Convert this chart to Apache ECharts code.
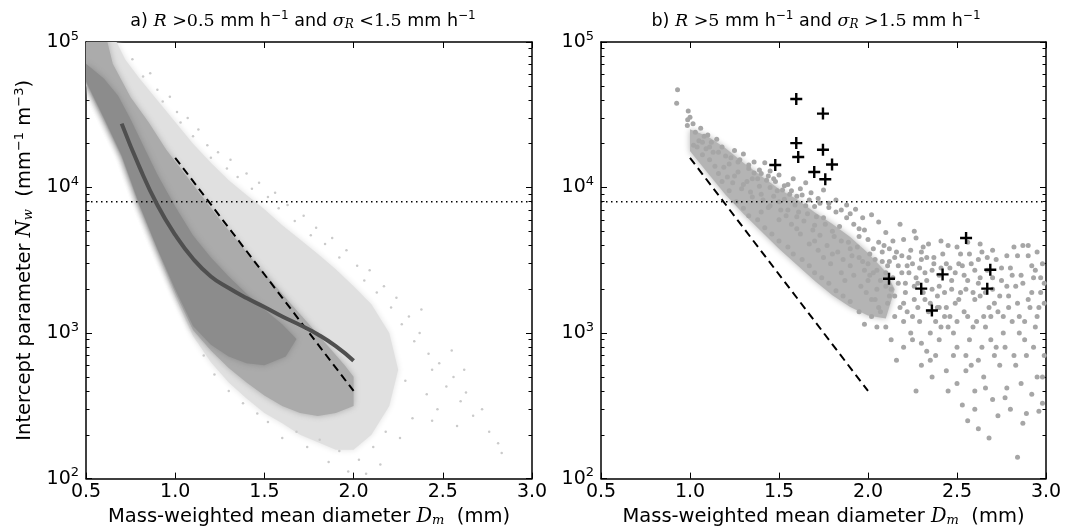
<!DOCTYPE html>
<html>
<head>
<meta charset="utf-8">
<script src="https://cdn.jsdelivr.net/npm/echarts@6.0.0/dist/echarts.min.js"></script>
<style>
html, body { margin: 0; background: #fff; }
#chart { width: 1065px; height: 532px; }
</style>
</head>
<body>
<div id="chart"></div>
<script>
// axis ticks
var xTicks = [0.5, 1.0, 1.5, 2.0, 2.5, 3.0];
var yMinorTicks = [200, 300, 400, 500, 600, 700, 800, 900,
  2000, 3000, 4000, 5000, 6000, 7000, 8000, 9000,
  20000, 30000, 40000, 50000, 60000, 70000, 80000, 90000];
var nwLimit = 8000;

// panel a: density of the point cloud, read as outlines of the light / medium / dark parts
var cloudLightA = [[0.5,126000],[0.63,126000],[0.72,75900],[0.8,56200],[0.9,39800],[1.0,28200],[1.1,20000],
  [1.2,14800],[1.3,11200],[1.4,8900],[1.5,7100],[1.6,5500],[1.7,4400],[1.8,3500],[1.9,2750],[2.0,2100],
  [2.1,1580],[2.2,1000],[2.25,560],[2.2,316],[2.1,200],[2.0,158],[1.9,158],[1.8,178],[1.7,200],
  [1.6,240],[1.5,282],[1.4,355],[1.3,457],[1.2,630],[1.1,955],[1.0,1780],[0.9,3550],[0.8,7080],
  [0.7,15800],[0.6,28200],[0.5,50100]];
var cloudMidA = [[0.5,126000],[0.6,126000],[0.65,70800],[0.75,41700],[0.85,28200],[0.95,18200],
  [1.05,12600],[1.15,8710],[1.25,6030],[1.35,4270],[1.45,3020],[1.55,2190],[1.65,1580],[1.75,1150],
  [1.85,832],[1.95,600],[2.0,501],[2.0,316],[1.9,282],[1.8,269],[1.7,282],[1.6,316],[1.5,372],
  [1.4,457],[1.3,575],[1.2,759],[1.1,1050],[1.0,1905],[0.9,3720],[0.8,7410],[0.7,16200],[0.6,29500],
  [0.5,52500]];
var cloudDarkA = [[0.5,70800],[0.6,56200],[0.68,42700],[0.75,29500],[0.82,19500],[0.9,12300],[1.0,7410],
  [1.1,4680],[1.2,3310],[1.3,2450],[1.4,1860],[1.5,1450],[1.6,1150],[1.68,912],[1.62,690],[1.5,600],
  [1.4,620],[1.3,690],[1.2,830],[1.1,1120],[1.0,2000],[0.9,3800],[0.8,7590],[0.7,16600],[0.6,30200],
  [0.5,53700]];
// panel a: scattered outlying points
var sparseA = [[0.76,76000],[0.82,58000],[0.86,61000],[0.9,47000],[0.93,39000],[0.97,42000],[1.01,33000],
  [1.03,28000],[1.07,30000],[1.1,22500],[1.13,25000],[1.18,19500],[1.2,16000],[1.24,17500],[1.29,13500],
  [1.31,15500],[1.35,11800],[1.4,12500],[1.43,9800],[1.47,10800],[1.52,8600],[1.56,9200],[1.58,7200],
  [1.63,7600],[1.67,5900],[1.72,6400],[1.76,4700],[1.79,5300],[1.84,4100],[1.88,4500],[1.92,3300],
  [1.96,3700],[2.02,2900],[2.06,2300],[2.09,2700],[2.13,1900],[2.17,2100],[2.21,1500],[2.24,1750],
  [2.27,1150],[2.31,1300],[2.34,880],[2.37,1000],[2.42,720],[2.44,560],[2.48,620],[2.52,430],[2.56,500],
  [2.6,340],[2.63,390],[2.67,270],[2.72,300],[2.76,210],[2.81,175],[2.83,150],[2.41,380],[2.47,300],
  [2.33,260],[2.26,190],[2.18,210],[2.11,165],[2.03,135],[1.97,112],[1.92,155],[1.86,130],[1.81,185],
  [1.74,165],[1.68,210],[1.6,190],[1.52,245],[1.46,280],[1.38,330],[1.3,400],[1.22,520],[1.16,700],
  [2.55,760],[2.62,560],[2.38,1450],[2.15,125],[2.07,108],[2.29,470],[2.44,250],[2.58,230]];
// panel a: fitted curve and reference line
var fitA = [[0.70,27500],[0.80,13800],[0.90,7590],[1.00,4730],[1.10,3240],[1.20,2450],[1.30,2040],
  [1.40,1740],[1.50,1510],[1.60,1300],[1.70,1135],[1.80,977],[1.90,813],[2.00,646]];
var refLine = [[1.0,16000],[2.0,400]];

// panel b
var cloudDenseB = [[1.0,25100],[1.1,22400],[1.2,18600],[1.3,14800],[1.4,12000],[1.5,9770],[1.6,8320],
  [1.7,6760],[1.8,5620],[1.9,4570],[2.0,3550],[2.1,2630],[2.15,2000],[2.1,1260],[2.0,1320],[1.9,1510],
  [1.8,1820],[1.7,2290],[1.6,2950],[1.5,3800],[1.4,5010],[1.3,6610],[1.2,8910],[1.1,12600],[1.0,17800]];
var pointsB = [[0.93,47000],[0.925,38000],[0.99,33600],[1.0,30400],[0.987,29200],[1.017,27400],[0.985,26700],
  [1.03,24000],[1.06,25500],[1.08,22500],[1.05,21000],[1.1,23000],[1.12,20500],[1.15,21500],[1.02,19500],
  [1.09,18500],[1.13,17500],[1.18,19000],[1.2,16500],[1.25,18000],[1.28,15500],[1.22,14500],[1.3,17000],
  [1.33,13500],[1.36,15000],[1.4,12500],[1.42,14800],[1.38,11500],[1.45,13000],[1.48,11000],[1.5,12200],
  [1.55,10500],[1.52,9600],[1.58,11500],[1.62,9800],[1.65,10800],[1.6,8700],[1.68,9200],[1.72,8400],
  [1.75,9600],[1.78,7800],[1.7,7400],[1.82,8200],[1.85,7000],[1.88,7600],[1.9,6600],[1.93,7100],
  [1.97,6200],[2.02,6500],[2.06,5800],[1.35,8600],
  [1.18,11000],[1.22,9500],[1.26,8000],[1.3,7200],[1.33,6400],[1.38,6000],[1.42,5300],[1.46,4800],
  [1.5,4300],[1.55,3900],[1.58,3500],[1.63,3200],[1.67,2900],[1.7,2600],[1.74,2400],[1.78,2200],
  [1.82,1950],[1.86,1800],[1.9,1650],[1.95,1400],[1.98,1150],[2.02,1300],[2.06,1500],[2.1,1100],
  [2.13,900],[2.16,650],[2.2,800],[2.24,1000],[2.27,400],[2.3,600],[2.33,750],[2.36,500],[2.4,900],
  [2.44,550],[2.48,700],[2.53,320],[2.56,250],[2.5,450],[2.58,600],[2.62,220],[2.6,400],[2.65,500],
  [2.68,190],[2.7,350],[2.74,600],[2.78,420],[2.8,300],[2.84,140],[2.86,450],[2.89,280],[2.92,380],
  [2.95,500],[2.98,330],[2.72,800],[2.76,1000],[2.82,700],[2.88,900],[2.94,1100],[2.99,700],
  [1.95,3300],[1.98,2700],[2.0,2300],[2.03,3800],[2.05,2000],[2.08,3100],[2.1,2600],[2.12,1800],
  [2.14,4300],[2.15,3300],[2.17,2200],[2.2,1600],[2.22,2900],[2.24,3700],[2.25,1300],[2.27,2400],
  [2.3,3200],[2.32,1700],[2.34,4100],[2.36,2700],[2.38,1200],[2.4,2100],[2.42,3500],[2.44,1500],
  [2.46,2800],[2.48,1000],[2.5,3900],[2.52,1900],[2.54,2500],[2.56,1300],[2.58,3000],[2.6,1700],
  [2.62,2200],[2.64,3600],[2.66,1100],[2.68,1500],[2.7,2400],[2.72,3200],[2.74,1800],[2.76,1300],
  [2.78,2100],[2.8,2800],[2.82,3900],[2.84,1600],[2.86,2500],[2.88,1200],[2.9,3400],[2.92,1900],
  [2.94,2700],[2.96,1500],[2.98,3000],[2.99,2200],[2.26,5000],[2.56,4200],[2.87,4000],[2.95,3600],
  [2.45,4000],[2.18,5600],[2.1,4900],[1.95,5200],[2.0,4400],
  [1.25,12000],[1.3,10500],[1.35,11500],[1.4,9000],[1.45,10000],[1.5,8000],[1.55,7000],[1.6,6300],
  [1.65,7500],[1.7,5500],[1.75,6200],[1.8,5000],[1.85,4300],[1.9,3800],[1.95,4600],[1.6,5200],
  [1.7,4300],[1.8,3500],[1.9,2900],[1.75,3300],[1.85,2600],[2.0,3000],[1.5,6000],[1.45,7500],[1.4,6800],
  [1.04,19000],[1.07,16800],[1.11,15500],[1.14,14000],[1.16,12500],[1.19,13800],[1.21,11800],[1.24,10800],
  [1.27,12800],[1.29,9800],[1.32,11000],[1.34,9300],[1.36,12600],[1.39,10200],[1.41,8200],[1.43,11200],
  [1.44,7300],[1.47,8700],[1.49,9500],[1.51,7000],[1.53,8300],[1.54,6400],[1.56,9000],[1.57,5600],
  [1.59,7600],[1.61,6800],[1.62,4800],[1.64,5900],[1.66,6600],[1.67,4100],[1.69,5100],[1.71,6300],
  [1.72,3700],[1.73,4700],[1.76,5600],[1.77,4000],[1.79,3000],[1.81,4600],[1.83,3600],[1.84,5400],
  [1.86,3200],[1.87,2300],[1.89,4200],[1.91,3400],[1.92,2500],[1.94,3900],[1.96,2100],[1.97,3100],
  [1.99,1900],[2.01,3500],[2.03,2600],[2.04,1700],[2.07,2300],[2.09,4000],[2.11,2900],[2.13,2000],
  [2.16,3600],[2.19,2600],[2.21,1900],[2.23,3300],[2.26,2100],[2.28,1500],[2.29,2800],[2.31,3900],
  [2.33,2300],[2.35,1600],[2.37,3300],[2.39,1800],[2.41,2800],[2.43,1300],[2.47,2300],[2.49,1600],
  [2.51,3000],[2.55,2000],[2.57,3500],[2.59,1100],[2.63,1800],[2.67,2700],[2.69,900],[2.71,1600],
  [2.75,2300],[2.79,1500],[2.83,2100],[2.85,1000],[2.91,1500],[2.97,1900],[2.93,2400],[2.81,1200],
  [2.65,1300],[2.45,1100],[2.35,1000],[2.25,900],[2.15,1300],[2.05,1100],[2.2,1200],[2.3,850],
  [2.38,700],[2.5,800],[2.55,700],[2.62,650],[2.4,1500],[2.62,3200],[2.78,3400],[2.12,3800],[2.06,4200],
  [1.98,5100],[1.92,5600],[1.88,6200],[1.82,6800],[1.78,7300],[1.73,7800],[1.67,8200],[1.63,8900],
  [1.57,9500],[1.53,10300],[1.47,11500],[1.44,12000],[1.39,13200],[1.33,14300],[1.27,15000],[1.23,16000],
  [1.16,17500],[1.11,19000],[1.07,20500],
  [2.01,2500],[2.02,1700],[2.04,3200],[2.05,2700],[2.07,1400],[2.08,3600],[2.1,2100],[2.11,1600],
  [2.12,3100],[2.14,2400],[2.15,1800],[2.17,2900],[2.18,1500],[2.19,3400],[2.21,2200],[2.22,1400],
  [2.23,2600],[2.25,3000],[2.26,1700],[2.28,2200],[2.29,1200],[2.3,3600],[2.31,1900],[2.32,2600],
  [2.34,1400],[2.36,2000],[2.37,3000],[2.39,1500],[2.4,2500],[2.41,1100],[2.43,1900],[2.44,3000],
  [2.46,1300],[2.47,2000],[2.49,2600],[2.5,1200],[2.51,1700],[2.53,2900],[2.54,1400],[2.56,2300],
  [2.57,900],[2.59,1900],[2.6,2700],[2.61,1200],[2.63,2400],[2.64,800],[2.66,1900],[2.67,3300],
  [2.69,1300],[2.7,2000],[2.71,700],[2.73,1400],[2.75,2800],[2.77,800],[2.79,1800],[2.81,2500],
  [2.83,600],[2.85,1300],[2.87,2200],[2.89,700],[2.9,1700],[2.92,2900],[2.93,800],[2.95,1300],
  [2.97,2400],[2.98,500],[2.99,1600],[2.9,4000],[2.84,3400],[2.7,3700],[2.52,3500],[2.33,3300],
  [2.2,4400],[2.41,4300],[2.63,4100],[2.27,4500],[2.35,650],[2.45,400],[2.55,550],[2.66,420],
  [2.77,360],[2.87,240],[2.96,290],[2.6,300],[2.73,270]];
var plusB = [[1.597,40600],[1.747,32200],[1.597,20200],[1.747,18200],[1.608,16200],[1.479,14300],
  [1.798,14400],[1.698,12800],[1.760,11400],[2.551,4500],[2.687,2720],[2.419,2530],[2.118,2360],
  [2.299,2020],[2.670,2020],[2.359,1430]];

var chart = echarts.init(document.getElementById('chart'));
var FONT = 'DejaVu Sans';
var SERIF = 'DejaVu Serif';
function richSet(size, small) {
  return {
    t: { fontFamily: FONT, fontSize: size, fontWeight: 'normal', color: '#000' },
    mi: { fontFamily: SERIF, fontStyle: 'italic', fontWeight: 'normal', fontSize: size, color: '#000' },
    m: { fontFamily: SERIF, fontWeight: 'normal', fontSize: size, color: '#000' },
    sup: { fontFamily: FONT, fontWeight: 'normal', fontSize: small, color: '#000', padding: [0, 0, 10, 0] },
    sub: { fontFamily: SERIF, fontStyle: 'italic', fontWeight: 'normal', fontSize: small, color: '#000', padding: [8, 0, 0, 0] }
  };
}
var textRich = richSet(19.5, 13);
var titleRich = richSet(17.5, 12);

function xAxisFor(gi, top) {
  return {
    type: 'value', gridIndex: gi, position: top ? 'top' : 'bottom',
    min: 0.5, max: 3.0, interval: 0.5,
    axisLine: { show: true, onZero: false, lineStyle: { color: '#000', width: 1.5 } },
    axisTick: { show: true, inside: true, length: 6, lineStyle: { color: '#000', width: 1 } },
    axisLabel: { show: !top, margin: 4, fontSize: 19, fontFamily: FONT, color: '#000',
      showMinLabel: true, showMaxLabel: true,
      formatter: function (v) { return v.toFixed(1); } },
    splitLine: { show: false },
    name: top ? '' : '{t|Mass-weighted mean diameter }{mi|D}{sub|m}{t|  (mm)}',
    nameLocation: 'middle', nameGap: 23,
    nameTextStyle: { rich: textRich }
  };
}

function yAxesFor(gi, withName) {
  var main = {
    type: 'log', logBase: 10, gridIndex: gi, min: 100, max: 100000, splitLine: { show: false },
    position: 'left', interval: 1,
    axisLine: { show: true, onZero: false, lineStyle: { color: '#000', width: 1.5 } },
    axisTick: { show: true, inside: true, length: 6, lineStyle: { color: '#000', width: 1 } },
    axisLabel: { margin: 7, formatter: function (v) {
      return '{b|10}{s|' + Math.round(Math.log10(v)) + '}'; },
      rich: { b: { fontFamily: FONT, fontSize: 19, color: '#000' },
              s: { fontFamily: FONT, fontSize: 13, color: '#000', padding: [0, 0, 11, 0] } } },
    name: withName ? '{t|Intercept parameter }{mi|N}{sub|w}{t|  (mm}{sup|−1}{t| m}{sup|−3}{t|)}' : '',
    nameLocation: 'middle', nameRotate: 90, nameGap: 50,
    nameTextStyle: { rich: textRich }
  };
  var right = {
    type: 'log', logBase: 10, gridIndex: gi, min: 100, max: 100000, splitLine: { show: false },
    position: 'right', interval: 1,
    axisLine: { show: true, onZero: false, lineStyle: { color: '#000', width: 1.5 } },
    axisLabel: { show: false },
    axisTick: { show: true, inside: true, length: 6, lineStyle: { color: '#000', width: 1 } }
  };
  // minor ticks of the log axis, placed on a plain axis that runs over the decade exponents
  function minor(pos) {
    return {
      type: 'value', gridIndex: gi, min: 2, max: 5, position: pos, splitLine: { show: false },
      axisLine: { show: false }, axisLabel: { show: false },
      axisTick: { show: true, inside: true, length: 3.5,
        customValues: yMinorTicks.map(function (v) { return Math.log10(v); }),
        lineStyle: { color: '#000', width: 1 } }
    };
  }
  return [main, minor('left'), right, minor('right')];
}

function region(points, color, xi, yi) {
  return {
    type: 'custom', xAxisIndex: xi, yAxisIndex: yi, clip: true, silent: true, z: 1,
    data: points, encode: { x: 0, y: 1 },
    renderItem: function (params, api) {
      if (params.dataIndex !== 0) return null;
      var pts = points.map(function (p) { return api.coord(p); });
      return { type: 'polygon', shape: { points: pts },
        style: { fill: color, shadowBlur: 6, shadowColor: color } };
    }
  };
}

function dotted(xi, yi) {
  return { type: 'line', xAxisIndex: xi, yAxisIndex: yi, z: 5, symbol: 'none', silent: true,
    data: [[0.5, nwLimit], [3.0, nwLimit]],
    lineStyle: { color: '#000', width: 1.5, type: [1.5, 3.5] } };
}

function dashed(xi, yi) {
  return { type: 'line', xAxisIndex: xi, yAxisIndex: yi, z: 6, symbol: 'none', silent: true,
    data: refLine, lineStyle: { color: '#000', width: 2, type: [8, 5] } };
}

var plusPath = 'path://M0.4,0H0.6V0.4H1V0.6H0.6V1H0.4V0.6H0V0.4H0.4Z';

var option = {
  backgroundColor: '#fff',
  animation: false,
  title: [
    { text: '{t|a) }{mi|R}{m| >0.5}{t| mm h}{sup|−1}{t| and }{mi|σ}{sub|R}{m| <1.5}{t| mm h}{sup|−1}',
      left: 298, top: 5, textAlign: 'center', textStyle: { fontWeight: 'normal', rich: titleRich } },
    { text: '{t|b) }{mi|R}{m| >5}{t| mm h}{sup|−1}{t| and }{mi|σ}{sub|R}{m| >1.5}{t| mm h}{sup|−1}',
      left: 811, top: 5, textAlign: 'center', textStyle: { fontWeight: 'normal', rich: titleRich } }
  ],
  grid: [
    { left: 86, top: 42, width: 446, height: 437 },
    { left: 601, top: 42, width: 445, height: 437 }
  ],
  xAxis: [xAxisFor(0, false), xAxisFor(0, true), xAxisFor(1, false), xAxisFor(1, true)],
  yAxis: yAxesFor(0, true).concat(yAxesFor(1, false)),
  series: [
    region(cloudLightA, '#e0e0e0', 0, 0),
    region(cloudMidA, '#ababab', 0, 0),
    region(cloudDarkA, '#8c8c8c', 0, 0),
    { type: 'scatter', xAxisIndex: 0, yAxisIndex: 0, z: 2, symbolSize: 2.5, silent: true,
      data: sparseA, itemStyle: { color: '#cacaca', opacity: 1 } },
    dotted(0, 0),
    { type: 'line', xAxisIndex: 0, yAxisIndex: 0, z: 7, symbol: 'none', smooth: true, silent: true,
      data: fitA, lineStyle: { color: '#4f4f4f', width: 4 } },
    dashed(0, 0),

    region(cloudDenseB, '#b4b4b4', 2, 4),
    { type: 'scatter', xAxisIndex: 2, yAxisIndex: 4, z: 2, symbolSize: 5, silent: true,
      data: pointsB, itemStyle: { color: '#a6a6a6', opacity: 1 } },
    dotted(2, 4),
    dashed(2, 4),
    { type: 'scatter', xAxisIndex: 2, yAxisIndex: 4, z: 8, symbol: plusPath, symbolSize: 12, silent: true,
      data: plusB, itemStyle: { color: '#000', opacity: 1 } }
  ]
};
chart.setOption(option);
</script>
</body>
</html>
